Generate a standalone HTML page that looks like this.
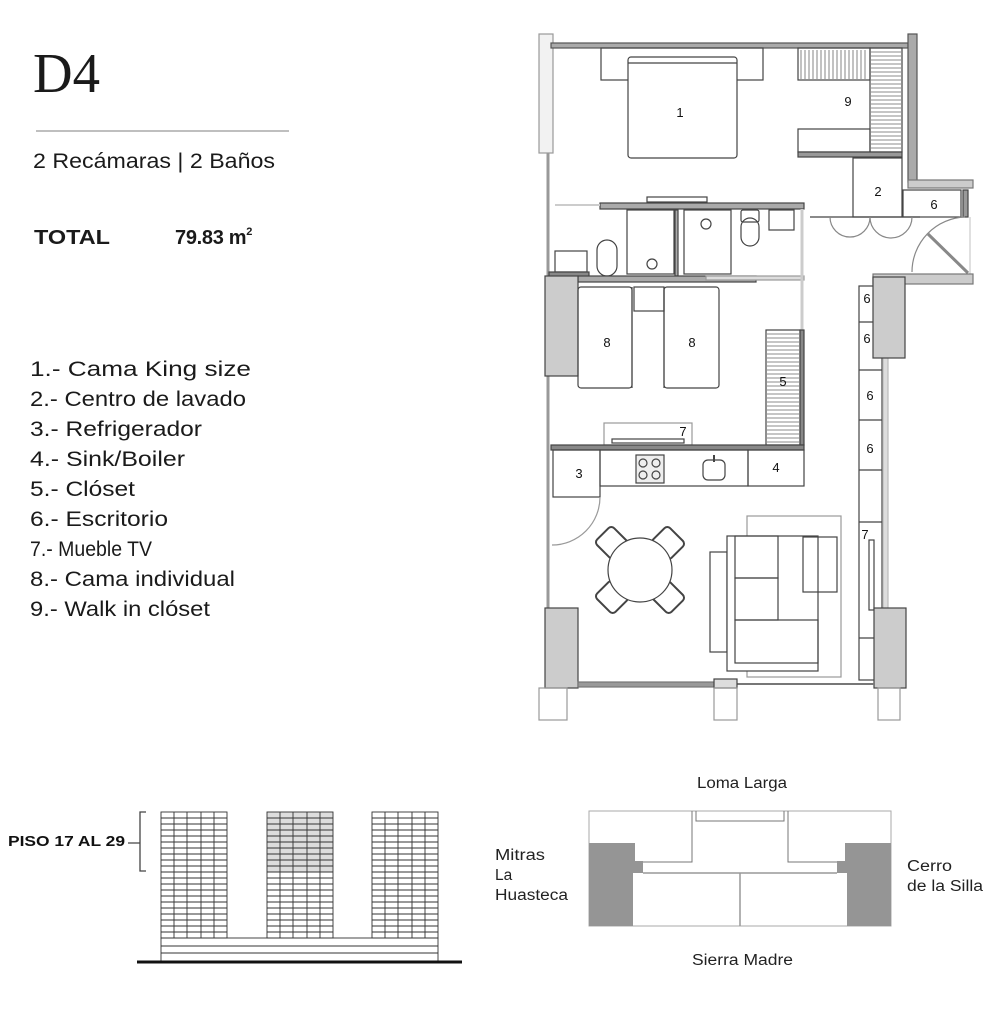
<!DOCTYPE html>
<html><head><meta charset="utf-8"><style>
body{margin:0;background:#fff;}
svg{display:block;}
.s{font-family:"Liberation Sans",sans-serif;}
</style></head><body>
<svg width="1005" height="1012" viewBox="0 0 1005 1012" xmlns="http://www.w3.org/2000/svg">
<rect width="1005" height="1012" fill="#fff"/>
<!-- Left text -->
<text x="33" y="92" font-family="Liberation Serif,serif" font-size="56" fill="#1a1a1a" textLength="67" lengthAdjust="spacingAndGlyphs">D4</text>
<line x1="36" y1="131" x2="289" y2="131" stroke="#999" stroke-width="1.2"/>
<text class="s" x="33" y="168" font-size="21" fill="#1a1a1a" textLength="242" lengthAdjust="spacingAndGlyphs">2 Recámaras | 2 Baños</text>
<text class="s" x="34" y="244" font-size="20" font-weight="bold" fill="#1a1a1a" textLength="76" lengthAdjust="spacingAndGlyphs">TOTAL</text>
<text class="s" x="175" y="244" font-size="20" font-weight="bold" fill="#1a1a1a" letter-spacing="-0.3">79.83 m<tspan font-size="11" dy="-9">2</tspan></text>
<g class="s" font-size="21.5" fill="#1a1a1a">
<text x="30" y="376" textLength="221" lengthAdjust="spacingAndGlyphs">1.- Cama King size</text>
<text x="30" y="406" textLength="216" lengthAdjust="spacingAndGlyphs">2.- Centro de lavado</text>
<text x="30" y="436" textLength="172" lengthAdjust="spacingAndGlyphs">3.- Refrigerador</text>
<text x="30" y="466" textLength="155" lengthAdjust="spacingAndGlyphs">4.- Sink/Boiler</text>
<text x="30" y="496" textLength="105" lengthAdjust="spacingAndGlyphs">5.- Clóset</text>
<text x="30" y="526" textLength="138" lengthAdjust="spacingAndGlyphs">6.- Escritorio</text>
<text x="30" y="556" textLength="122" lengthAdjust="spacingAndGlyphs">7.- Mueble TV</text>
<text x="30" y="586" textLength="205" lengthAdjust="spacingAndGlyphs">8.- Cama individual</text>
<text x="30" y="616" textLength="180" lengthAdjust="spacingAndGlyphs">9.- Walk in clóset</text>
</g>

<!-- Floor plan -->
<g fill="none" stroke="#444" stroke-width="1.2">
<rect x="539" y="34" width="14" height="119" fill="#f2f2f2" stroke="#999"/>
<rect x="551" y="43" width="357" height="5" fill="#aaa" stroke="#555"/>
<rect x="908" y="34" width="9" height="148" fill="#aaa" stroke="#555"/>
<rect x="908" y="180" width="65" height="8" fill="#ccc" stroke="#777"/>
<line x1="548" y1="153" x2="548" y2="608" stroke="#999" stroke-width="3"/>
<rect x="601" y="48" width="162" height="32"/>
<rect x="628" y="57" width="109" height="101" rx="3" fill="#fff"/>
<line x1="628" y1="63" x2="737" y2="63"/>
<rect x="798" y="48" width="72" height="32"/>
<rect x="870" y="48" width="32" height="104"/>
<rect x="798" y="129" width="72" height="23"/>
<rect x="798" y="152" width="104" height="5" fill="#999"/>
<rect x="853" y="158" width="49" height="59"/>
<rect x="903" y="190" width="58" height="27"/>
<rect x="963" y="190" width="5" height="27" fill="#999"/>
<line x1="810" y1="217" x2="920" y2="217"/>
<path d="M830 217 A20 20 0 0 0 870 217 M870 217 A21 21 0 0 0 912 217" stroke="#888"/>
<path d="M912 272 A55 55 0 0 1 965 217" stroke="#888"/>
<line x1="928" y1="234" x2="968" y2="273" stroke="#888" stroke-width="3"/>
<line x1="970" y1="217" x2="970" y2="275" stroke="#ccc"/>
<rect x="873" y="274" width="100" height="10" fill="#ccc" stroke="#777"/>
<rect x="600" y="203" width="204" height="6" fill="#aaa"/>
<rect x="647" y="197" width="60" height="5"/>
<line x1="555" y1="205" x2="600" y2="205" stroke="#ccc" stroke-width="2"/>
<rect x="627" y="210" width="47" height="64"/>
<rect x="675" y="210" width="3" height="66" fill="#aaa"/>
<rect x="684" y="210" width="47" height="64"/>
<circle cx="706" cy="224" r="5"/><circle cx="652" cy="264" r="5"/>
<rect x="741" y="210" width="18" height="12" rx="2"/>
<rect x="741" y="218" width="18" height="28" rx="9"/>
<rect x="769" y="210" width="25" height="20"/>
<rect x="597" y="240" width="20" height="36" rx="10"/>
<rect x="555" y="251" width="32" height="21"/>
<rect x="549" y="272" width="40" height="6" fill="#888"/>
<rect x="578" y="276" width="178" height="6" fill="#aaa"/>
<rect x="706" y="276" width="98" height="4" fill="#ddd" stroke="#999"/>
<line x1="802" y1="209" x2="802" y2="445" stroke="#ccc" stroke-width="3"/>
<rect x="545" y="276" width="33" height="100" fill="#ccc" stroke="#444"/>
<rect x="578" y="287" width="54" height="101" rx="3"/>
<rect x="664" y="287" width="55" height="101" rx="3"/>
<line x1="632" y1="287" x2="632" y2="388"/><line x1="664" y1="287" x2="664" y2="388"/>
<rect x="634" y="287" width="30" height="24"/>
<rect x="766" y="330" width="34" height="115"/>
<rect x="800" y="330" width="4" height="115" fill="#888"/>
<rect x="604" y="423" width="88" height="22" stroke="#999"/>
<rect x="612" y="439" width="72" height="4"/>
<rect x="551" y="445" width="253" height="5" fill="#888"/>
<rect x="600" y="450" width="148" height="36"/>
<rect x="553" y="450" width="47" height="47"/>
<rect x="748" y="450" width="56" height="36"/>
<rect x="636" y="455" width="28" height="28" fill="#eee"/>
<circle cx="643" cy="463" r="4"/><circle cx="656" cy="463" r="4"/><circle cx="643" cy="475" r="4"/><circle cx="656" cy="475" r="4"/>
<rect x="703" y="460" width="22" height="20" rx="5"/>
<line x1="714" y1="455" x2="714" y2="462" stroke-width="2"/>
<path d="M600 497 A48 48 0 0 1 552 545" stroke="#999"/>
<g stroke="#444" stroke-width="2" fill="#fff">
<rect x="-13" y="-12" width="26" height="24" rx="4" transform="translate(612 543) rotate(45)"/>
<rect x="-13" y="-12" width="26" height="24" rx="4" transform="translate(668 543) rotate(45)"/>
<rect x="-13" y="-12" width="26" height="24" rx="4" transform="translate(612 597) rotate(45)"/>
<rect x="-13" y="-12" width="26" height="24" rx="4" transform="translate(668 597) rotate(45)"/>
</g>
<circle cx="640" cy="570" r="32" fill="#fff"/>
<rect x="747" y="516" width="94" height="161" stroke="#999"/>
<rect x="710" y="552" width="17" height="100" fill="#fff"/>
<rect x="727" y="536" width="91" height="135" fill="#fff"/>
<rect x="735" y="536" width="43" height="42"/>
<rect x="735" y="578" width="43" height="42"/>
<rect x="735" y="620" width="83" height="43"/>
<rect x="803" y="537" width="34" height="55"/>
<rect x="859" y="286" width="23" height="394"/>
<line x1="859" y1="322" x2="882" y2="322"/><line x1="859" y1="370" x2="882" y2="370"/>
<line x1="859" y1="420" x2="882" y2="420"/><line x1="859" y1="470" x2="882" y2="470"/>
<line x1="859" y1="522" x2="882" y2="522"/><line x1="859" y1="638" x2="882" y2="638"/>
<rect x="869" y="540" width="5" height="70"/>
<rect x="883" y="284" width="5" height="325" fill="#ddd" stroke="#bbb"/>
<rect x="873" y="277" width="32" height="81" fill="#ccc" stroke="#444"/>
<rect x="545" y="608" width="33" height="80" fill="#ccc" stroke="#444"/>
<rect x="874" y="608" width="32" height="80" fill="#ccc" stroke="#444"/>
<rect x="578" y="682" width="138" height="5" fill="#999" stroke="#777"/>
<line x1="737" y1="684" x2="874" y2="684" stroke="#777" stroke-width="2"/>
<rect x="714" y="679" width="23" height="9" fill="#ddd"/>
<rect x="539" y="688" width="28" height="32" stroke="#999"/>
<rect x="714" y="688" width="23" height="32" stroke="#999"/>
<rect x="878" y="688" width="22" height="32" stroke="#999"/>
</g>
<g stroke="#666" stroke-width="0.8">
<path d="M801 50V79M805 50V79M809 50V79M813 50V79M817 50V79M821 50V79M825 50V79M829 50V79M833 50V79M837 50V79M841 50V79M845 50V79M849 50V79M853 50V79M857 50V79M861 50V79M865 50V79"/>
<path d="M871 52H901M871 56H901M871 60H901M871 64H901M871 68H901M871 72H901M871 76H901M871 80H901M871 84H901M871 88H901M871 92H901M871 96H901M871 100H901M871 104H901M871 108H901M871 112H901M871 116H901M871 120H901M871 124H901M871 128H901M871 132H901M871 136H901M871 140H901M871 144H901M871 148H901"/>
<path d="M767 334H799M767 338H799M767 342H799M767 346H799M767 350H799M767 354H799M767 358H799M767 362H799M767 366H799M767 370H799M767 374H799M767 378H799M767 382H799M767 386H799M767 390H799M767 394H799M767 398H799M767 402H799M767 406H799M767 410H799M767 414H799M767 418H799M767 422H799M767 426H799M767 430H799M767 434H799M767 438H799M767 442H799"/>
</g>
<g class="s" font-size="13" fill="#111" text-anchor="middle">
<text x="680" y="117">1</text><text x="848" y="106">9</text>
<text x="878" y="196">2</text><text x="934" y="209">6</text>
<text x="607" y="347">8</text><text x="692" y="347">8</text>
<text x="783" y="386">5</text><text x="683" y="436">7</text>
<text x="579" y="478">3</text><text x="776" y="472">4</text>
<text x="867" y="303">6</text><text x="867" y="343">6</text>
<text x="870" y="400">6</text><text x="870" y="453">6</text>
<text x="865" y="539">7</text>
</g>

<!-- Tower elevation -->
<text class="s" x="8" y="846" font-size="15" font-weight="bold" fill="#111" textLength="117" lengthAdjust="spacingAndGlyphs">PISO 17 AL 29</text>
<path d="M146 812H140V871H146M128 843H140" stroke="#444" stroke-width="1.3" fill="none"/>
<rect x="267" y="812" width="66" height="60" fill="#ddd"/>
<g stroke="#333" stroke-width="0.9" fill="none">
<rect x="161" y="812" width="66" height="126"/>
<rect x="267" y="812" width="66" height="126"/>
<rect x="372" y="812" width="66" height="126"/>
<path d="M174 812V938M187 812V938M201 812V938M214 812V938M280 812V938M293 812V938M307 812V938M320 812V938M385 812V938M398 812V938M412 812V938M425 812V938"/>
<path d="M161 818H227M161 824H227M161 830H227M161 836H227M161 842H227M161 848H227M161 854H227M161 860H227M161 866H227M161 872H227M161 878H227M161 884H227M161 890H227M161 896H227M161 902H227M161 908H227M161 914H227M161 920H227M161 926H227M161 932H227"/>
<path d="M267 818H333M267 824H333M267 830H333M267 836H333M267 842H333M267 848H333M267 854H333M267 860H333M267 866H333M267 872H333M267 878H333M267 884H333M267 890H333M267 896H333M267 902H333M267 908H333M267 914H333M267 920H333M267 926H333M267 932H333"/>
<path d="M372 818H438M372 824H438M372 830H438M372 836H438M372 842H438M372 848H438M372 854H438M372 860H438M372 866H438M372 872H438M372 878H438M372 884H438M372 890H438M372 896H438M372 902H438M372 908H438M372 914H438M372 920H438M372 926H438M372 932H438"/>
<rect x="161" y="938" width="277" height="24"/>
<path d="M161 946H438M161 953H438"/>
</g>
<line x1="137" y1="962" x2="462" y2="962" stroke="#111" stroke-width="3"/>

<!-- Site plan -->
<g class="s" font-size="15.5" fill="#222">
<text x="697" y="788" textLength="90" lengthAdjust="spacingAndGlyphs">Loma Larga</text>
<text x="692" y="965" textLength="101" lengthAdjust="spacingAndGlyphs">Sierra Madre</text>
<text x="495" y="860" textLength="50" lengthAdjust="spacingAndGlyphs">Mitras</text><text x="495" y="880">La</text><text x="495" y="900" textLength="73" lengthAdjust="spacingAndGlyphs">Huasteca</text>
<text x="907" y="871" textLength="45" lengthAdjust="spacingAndGlyphs">Cerro</text><text x="907" y="891" textLength="76" lengthAdjust="spacingAndGlyphs">de la Silla</text>
</g>
<g stroke="#777" stroke-width="1" fill="none">
<rect x="589" y="811" width="302" height="115" stroke="#aaa"/>
<path d="M692 811V862H643M696 811V821H784V811M788 811V862H837"/>
<path d="M643 873H837M740 873V926" stroke="#999" stroke-width="1.5"/>
</g>
<path d="M589 843H635V861H643V873H633V926H589Z" fill="#959595"/>
<path d="M891 843H845V861H837V873H847V926H891Z" fill="#959595"/>
</svg>
</body></html>
